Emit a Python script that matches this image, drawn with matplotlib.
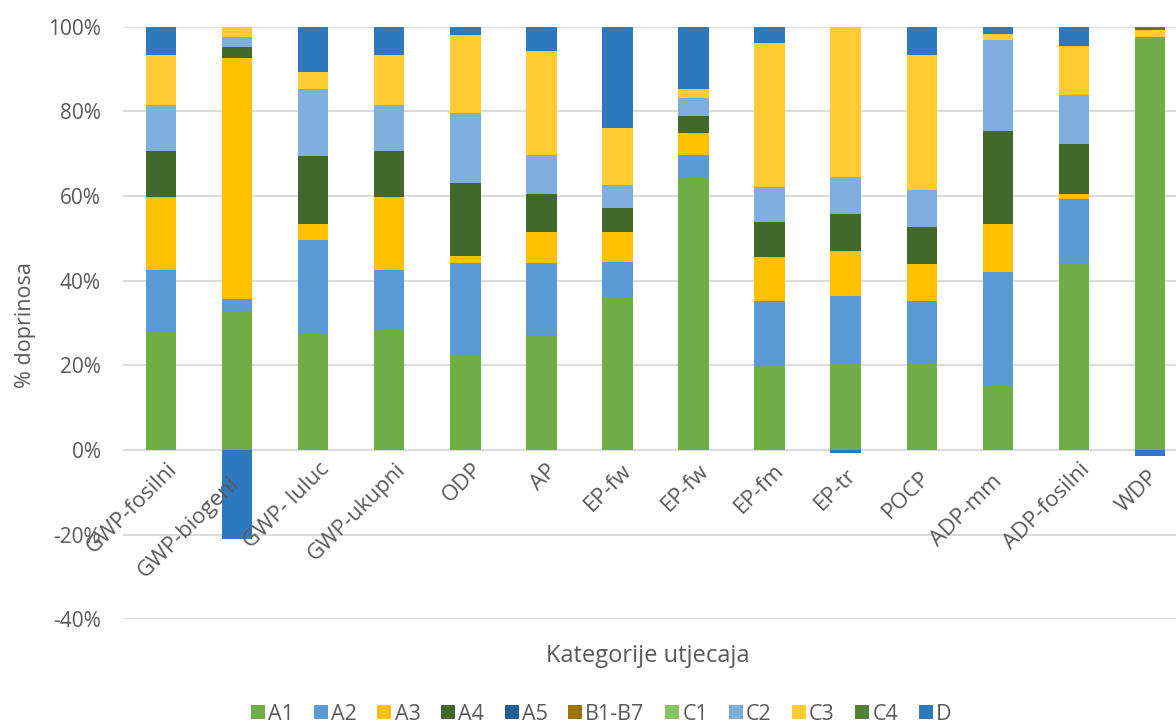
import matplotlib
matplotlib.use('Agg')
import matplotlib.pyplot as plt
import numpy as np
from matplotlib.transforms import ScaledTranslation
from matplotlib.patches import Patch

plt.rcParams['font.family'] = ['Open Sans', 'DejaVu Sans']

categories = ['GWP-fosilni', 'GWP-biogeni', 'GWP- luluc', 'GWP-ukupni', 'ODP', 'AP',
              'EP-fw', 'EP-fw', 'EP-fm', 'EP-tr', 'POCP', 'ADP-mm', 'ADP-fosilni', 'WDP']

A1 = [28.1, 32.8, 27.5, 28.3, 22.2, 27.2, 36.2, 64.2, 20.1, 20.5, 20.5, 15.2, 44.1, 97.6]
A2 = [14.4, 2.9, 22.1, 14.2, 21.9, 17.1, 8.2, 5.5, 15.1, 15.9, 14.8, 26.8, 15.1, 0.0]
A3 = [17.2, 57.0, 3.8, 17.2, 1.7, 7.2, 7.0, 5.1, 10.4, 10.6, 8.6, 11.4, 1.4, 0.0]
A4 = [11.0, 2.5, 16.1, 11.0, 17.2, 9.1, 5.7, 4.2, 8.3, 8.8, 8.8, 21.9, 11.7, 0.0]
A5 = [0.0] * 14
B1_B7 = [0.0] * 14
C1 = [0.0] * 14
C2 = [10.9, 2.4, 15.9, 10.9, 16.7, 9.1, 5.5, 4.2, 8.3, 8.7, 8.7, 21.5, 11.5, 0.0]
C3 = [11.8, 2.4, 3.9, 11.8, 18.3, 24.5, 13.4, 2.0, 34.0, 35.9, 31.9, 1.4, 11.6, 1.7]
C4 = [0.0, 0.0, 0.0, 0.0, 0.0, 0.0, 0.0, 0.0, 0.0, 0.0, 0.0, 0.0, 0.0, 0.7]
D = [6.6, -21.1, 10.7, 6.6, 2.0, 5.8, 24.0, 14.8, 3.8, -0.6, 6.7, 1.8, 4.6, -1.3]

series_names = ['A1', 'A2', 'A3', 'A4', 'A5', 'B1-B7', 'C1', 'C2', 'C3', 'C4', 'D']
series_vals = [A1, A2, A3, A4, A5, B1_B7, C1, C2, C3, C4, D]
colors = ['#70AD47', '#5B9BD5', '#FFC000', '#43682B', '#255E91', '#9E7400',
          '#8CC168', '#7EAEDE', '#FFCD33', '#548235', '#2E78BE']

# small per-label nudges (px along the text direction) to mimic the original layout
label_nudge = [0, 20, 0, 0, 0, 2, 2, 2, 2, 8, 11, 17, 0, 11]

W, H = 1176, 725
fig = plt.figure(figsize=(W / 100, H / 100), dpi=100)
left, right, top, bottom = 123, 1188, 26.7, 619.4
ax = fig.add_axes([left / W, 1 - bottom / H, (right - left) / W, (bottom - top) / H])

x = np.arange(len(categories))
pos_b = np.zeros(len(categories))
neg_b = np.zeros(len(categories))
for name, vals, col in zip(series_names, series_vals, colors):
    v = np.array(vals, dtype=float)
    b = np.where(v >= 0, pos_b, neg_b)
    ax.bar(x, v, 0.4, bottom=b, color=col, zorder=3, linewidth=0)
    pos_b += np.where(v > 0, v, 0)
    neg_b += np.where(v < 0, v, 0)

ax.set_xlim(-0.5, len(categories) - 0.5)
ax.set_ylim(-40, 100)
yt = list(range(-40, 101, 20))
ax.set_yticks(yt)
ax.set_yticklabels([f'{t}%' for t in yt], fontsize=15, color='#595959')
ax.tick_params(axis='y', length=0, pad=16)
ax.set_xticks([])
ax.yaxis.grid(True, color='#D9D9D9', linewidth=1.3, zorder=0)
ax.set_axisbelow(True)
for s in ax.spines.values():
    s.set_visible(False)

for xi, cat, nd in zip(x, categories, label_nudge):
    dx = 13 - nd * 0.707
    dy = -16 - nd * 0.707
    offset = ScaledTranslation(dx / 100, dy / 100, fig.dpi_scale_trans)
    ax.text(xi, 0, cat, rotation=45, ha='right', va='center', rotation_mode='anchor',
            fontsize=16, color='#595959', transform=ax.transData + offset, zorder=5)

fig.text(25 / W, 1 - 325 / H, '% doprinosa', rotation=90, ha='center', va='center',
         fontsize=15.5, color='#595959')
fig.text(648 / W, 1 - 656 / H, 'Kategorije utjecaja', ha='center', va='center',
         fontsize=17, color='#595959')

handles = [Patch(facecolor=c, edgecolor='none', label=n) for n, c in zip(series_names, colors)]
leg = fig.legend(handles=handles, loc='center', bbox_to_anchor=(601 / W, 1 - 714 / H), ncol=11,
                 frameon=False, fontsize=15.5, handlelength=0.65, handleheight=0.65,
                 handletextpad=0.15, columnspacing=0.95, borderpad=0)
for t in leg.get_texts():
    t.set_color('#595959')

fig.savefig('out.png', dpi=100)
